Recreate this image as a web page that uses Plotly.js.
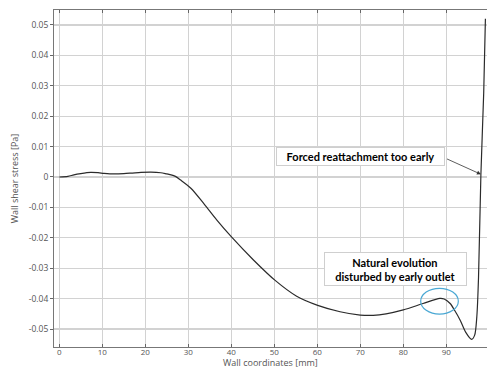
<!DOCTYPE html>
<html>
<head>
<meta charset="utf-8">
<script src="https://cdn.plot.ly/plotly-3.0.1.min.js"></script>
<style>
  html, body { margin: 0; padding: 0; background: #fff; }
  #chart { width: 487px; height: 369px; }
</style>
</head>
<body>
<div id="chart"></div>
<script>
// Wall shear stress along the wall coordinate
const wallCoord = [0, 2, 3.4, 5, 7.3, 9, 10.4, 12.7, 15, 17, 19, 21.3, 23.6, 25, 26, 27, 28.2,
  30.6, 33.7, 36.6, 40.1, 45.1, 50.2, 55.2, 60.1, 65.3, 70, 73, 76, 80, 84.6, 88.5, 89.5,
  90.9, 92, 93.2, 94.5, 95.9, 96.6, 97.1, 97.5, 98.05, 98.7, 99.1];
const shearStress = [0, 0.0002, 0.0007, 0.0011, 0.0015, 0.0014, 0.0012, 0.001, 0.0011, 0.0013,
  0.0015, 0.0016, 0.0014, 0.001, 0.0007, 0.0002, -0.001, -0.0037, -0.0089, -0.0141, -0.0198,
  -0.0272, -0.0340, -0.0392, -0.0422, -0.0443, -0.0454, -0.0455, -0.045, -0.0437, -0.0416,
  -0.0399, -0.0401, -0.0416, -0.044, -0.047, -0.051, -0.0534, -0.052, -0.046, -0.033, 0.0007,
  0.0275, 0.052];

const xTicks = [0, 10, 20, 30, 40, 50, 60, 70, 80, 90];
const yTicks = [-0.05, -0.04, -0.03, -0.02, -0.01, 0, 0.01, 0.02, 0.03, 0.04, 0.05];
const yTickText = ['-0.05', '-0.04', '-0.03', '-0.02', '-0.01', '0', '0.01', '0.02', '0.03', '0.04', '0.05'];

const noteFont = { family: 'Lato, "Open Sans", sans-serif', size: 11, color: '#000', weight: 700 };
const axisFont = { family: '"Open Sans", sans-serif', size: 8.5, color: '#555' };
const xTickFont = { family: '"Open Sans", sans-serif', size: 8, color: '#555' };
const titleFont = { family: '"Open Sans", sans-serif', size: 9, color: '#555' };

const trace = {
  x: wallCoord,
  y: shearStress,
  type: 'scatter',
  mode: 'lines',
  line: { color: '#2b2b2b', width: 1.2, shape: 'spline', smoothing: 0.8 },
  hoverinfo: 'skip'
};

const layout = {
  width: 487,
  height: 369,
  margin: { l: 54, r: 0, t: 10, b: 22 },
  paper_bgcolor: '#fff',
  plot_bgcolor: '#fff',
  showlegend: false,
  xaxis: {
    range: [-1.23, 99.47],
    tickvals: xTicks,
    ticks: 'inside',
    ticklen: 3,
    tickcolor: '#666',
    ticklabelstandoff: -3,
    showline: true,
    linecolor: '#777',
    linewidth: 1,
    mirror: 'ticks',
    showgrid: true,
    gridcolor: '#d2d2d2',
    gridwidth: 1.3,
    zeroline: false,
    tickfont: xTickFont
  },
  yaxis: {
    range: [-0.0559, 0.0549],
    tickvals: yTicks,
    ticktext: yTickText,
    ticks: 'outside',
    ticklen: 3,
    tickcolor: '#666',
    showline: true,
    linecolor: '#777',
    linewidth: 1,
    showgrid: true,
    gridcolor: '#d2d2d2',
    gridwidth: 1.3,
    zeroline: false,
    tickfont: axisFont,
    title: { text: 'Wall shear stress [Pa]', font: titleFont, standoff: 8 }
  },
  shapes: [
    {
      type: 'circle', xref: 'x', yref: 'y',
      x0: 84.05, x1: 92.8, y0: -0.04507, y1: -0.0366,
      line: { color: '#4aa8d4', width: 1.2 }
    }
  ],
  annotations: [
    {
      // x-axis title, set just under the tick labels
      xref: 'paper', yref: 'paper', x: 0.5, y: 0,
      xanchor: 'center', yanchor: 'bottom', yshift: -23,
      text: 'Wall coordinates [mm]',
      showarrow: false,
      font: titleFont,
      borderpad: 0
    },
    {
      xref: 'x', yref: 'y', x: 70.1, y: 0.00658,
      text: 'Forced reattachment too early',
      showarrow: false,
      font: noteFont,
      bgcolor: '#fff', bordercolor: '#cfcfcf', borderwidth: 1, borderpad: 1,
      width: 165, height: 15.4
    },
    {
      xref: 'x', yref: 'y', x: 78.14, y: -0.0302,
      text: 'Natural evolution<br>disturbed by early outlet',
      showarrow: false,
      font: noteFont,
      bgcolor: '#fff', bordercolor: '#cfcfcf', borderwidth: 1, borderpad: 1,
      width: 138.7, height: 30.3
    },
    {
      xref: 'x', yref: 'y', x: 98.05, y: 0.00089,
      text: '',
      showarrow: true,
      axref: 'pixel', ayref: 'pixel', ax: -35.4, ay: -16,
      arrowhead: 2, arrowsize: 1, arrowwidth: 0.8, arrowcolor: '#333'
    }
  ]
};

Plotly.newPlot('chart', [trace], layout, { displayModeBar: false, staticPlot: true });
</script>
</body>
</html>
